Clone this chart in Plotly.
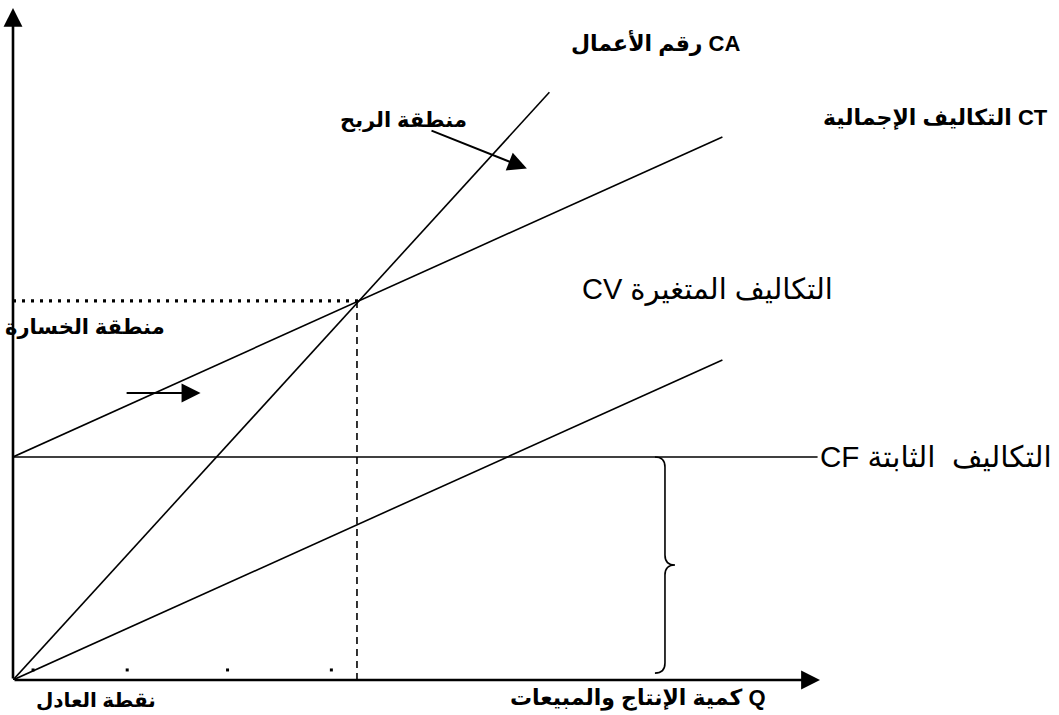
import plotly.graph_objects as go

# ---------------- data (break-even model) ----------------
fixed_cost = 100          # CF
unit_var_cost = 7         # slope of CV
unit_price = 17           # slope of CA
q_ct_end = [0, 20.5]      # Q span of CT / CV lines
q_ca_end = [0, 15.5]      # Q span of CA line
q_cf_end = [0, 23.25]     # Q span of CF line
q_breakeven = 10
axis_q_max = 23.32
axis_y_max = 301.3
tick_dots_q = [0.58, 3.3, 6.2, 9.2]
tick_dots_y = [4.5, 4.5, 4.5, 4.5]

ca_vals = [unit_price * q for q in q_ca_end]
cv_vals = [unit_var_cost * q for q in q_ct_end]
ct_vals = [fixed_cost + unit_var_cost * q for q in q_ct_end]
cf_vals = [fixed_cost for _ in q_cf_end]
be_value = fixed_cost + unit_var_cost * q_breakeven

FONT = "Liberation Sans, DejaVu Sans, Arial, sans-serif"
BLACK = "black"

fig = go.Figure()
line_style = dict(color=BLACK, width=1.6)

fig.add_trace(go.Scatter(x=q_ca_end, y=ca_vals, mode="lines", line=line_style, hoverinfo="skip"))
fig.add_trace(go.Scatter(x=q_ct_end, y=ct_vals, mode="lines", line=line_style, hoverinfo="skip"))
fig.add_trace(go.Scatter(x=q_ct_end, y=cv_vals, mode="lines", line=line_style, hoverinfo="skip"))
fig.add_trace(go.Scatter(x=q_cf_end, y=cf_vals, mode="lines", line=line_style, hoverinfo="skip"))
# dotted horizontal at break-even value
fig.add_trace(go.Scatter(x=[0, q_breakeven], y=[be_value, be_value], mode="lines",
                         line=dict(color=BLACK, width=3.2, dash="3px,6px"), hoverinfo="skip"))
# dashed vertical at break-even quantity
fig.add_trace(go.Scatter(x=[q_breakeven - 0.06, q_breakeven - 0.06], y=[0, be_value], mode="lines",
                         line=dict(color=BLACK, width=1.6, dash="7px,5px"), hoverinfo="skip"))
# small dots on the Q axis
fig.add_trace(go.Scatter(x=tick_dots_q, y=tick_dots_y, mode="markers",
                         marker=dict(symbol="square", size=3, color=BLACK), hoverinfo="skip"))

# curly brace spanning the fixed cost
xb, w = 18.84, 0.29
top, bot = fixed_cost, 3.1
mid = (top + bot) / 2
h = 4.5
brace = (f"M {xb - w},{top} Q {xb},{top} {xb},{top - h} "
         f"L {xb},{mid + h} Q {xb},{mid} {xb + w},{mid} "
         f"Q {xb},{mid} {xb},{mid - h} "
         f"L {xb},{bot + h} Q {xb},{bot} {xb - w},{bot}")
fig.add_shape(type="path", path=brace, xref="x", yref="y", line=dict(color=BLACK, width=1.6))

ann = []
# axes with arrows
ann.append(dict(x=0, y=axis_y_max, ax=0, ay=0, xref="x", yref="y", axref="x", ayref="y",
                text="", showarrow=True, arrowhead=2, arrowsize=1.45, arrowwidth=2.6, arrowcolor=BLACK))
ann.append(dict(x=axis_q_max, y=0, ax=0, ay=0, xref="x", yref="y", axref="x", ayref="y",
                text="", showarrow=True, arrowhead=2, arrowsize=1.45, arrowwidth=2.6, arrowcolor=BLACK))
# region arrows
ann.append(dict(x=14.85, y=229.3, ax=12.05, ay=246.6, xref="x", yref="y", axref="x", ayref="y",
                text="", showarrow=True, arrowhead=2, arrowsize=1.9, arrowwidth=2, arrowcolor=BLACK))
ann.append(dict(x=5.42, y=128.7, ax=3.24, ay=128.7, xref="x", yref="y", axref="x", ayref="y",
                text="", showarrow=True, arrowhead=2, arrowsize=1.9, arrowwidth=2, arrowcolor=BLACK))


def label(text, q, v, xanchor, size, bold):
    # place in paper coordinates converted from data units (so labels outside range still show)
    t = f"<b>{text}</b>" if bold else text
    return dict(x=q / axis_q_max, y=v / axis_y_max, xref="paper", yref="paper", text=t,
                showarrow=False, xanchor=xanchor, yanchor="middle",
                font=dict(family=FONT, size=size, color=BLACK))


ann.append(label("رقم الأعمال CA", 21.07, 285.7, "right", 22, True))
ann.append(label("التكاليف الإجمالية CT", 29.97, 252, "right", 22, True))
ann.append(label("CV التكاليف المتغيرة", 16.39, 174.9, "left", 29, False))
ann.append(label("CF التكاليف  الثابتة", 23.27, 100, "left", 29.5, False))
ann.append(label("نقطة العادل", 0.6, -9, "left", 20, True))
ann.append(label("كمية الإنتاج والمبيعات Q", 21.82, -8, "right", 22, True))
ann.append(label("منطقة الربح", 11.27, 251.1, "center", 21, True))
ann.append(label("منطقة الخسارة", 4.45, 158.3, "right", 21, True))

fig.update_layout(
    width=1059, height=715,
    margin=dict(l=13, r=239, t=8, b=35, autoexpand=False),
    paper_bgcolor="white", plot_bgcolor="white",
    showlegend=False,
    xaxis=dict(range=[0, axis_q_max], visible=False, fixedrange=True),
    yaxis=dict(range=[0, axis_y_max], visible=False, fixedrange=True),
    annotations=ann,
)

fig.write_html("out.html", config={"displayModeBar": False},
               post_script="document.body.style.margin='0';document.body.style.overflow='hidden';")
